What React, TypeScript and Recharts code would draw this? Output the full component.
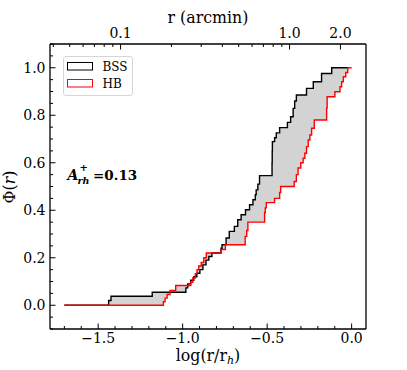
import React from 'react';
import { ComposedChart, Area, Line, XAxis, YAxis, Legend, Customized, ReferenceLine } from 'recharts';

// log(r/r_h) where each cumulative radial distribution steps up, and the value after the step
const bssX = [
  -1.7, -1.438, -1.424, -1.18, -0.981, -0.97, -0.952, -0.934, -0.916, -0.898, -0.88, -0.862, -0.845, -0.827,
  -0.773, -0.767, -0.743, -0.724, -0.694, -0.674, -0.654, -0.628, -0.604, -0.584, -0.57, -0.565, -0.555,
  -0.545, -0.471, -0.47, -0.469, -0.456, -0.446, -0.426, -0.38, -0.361, -0.346, -0.337, -0.327, -0.267,
  -0.227, -0.178, -0.118, -0.019,
];
const bssY = [
  0, 0.02, 0.038, 0.055, 0.073, 0.09, 0.105, 0.12, 0.135, 0.15, 0.17, 0.19, 0.205, 0.22,
  0.24, 0.255, 0.283, 0.311, 0.332, 0.36, 0.381, 0.402, 0.423, 0.444, 0.465, 0.486, 0.51,
  0.546, 0.6, 0.65, 0.689, 0.705, 0.726, 0.748, 0.77, 0.794, 0.829, 0.86, 0.885, 0.913,
  0.941, 0.976, 1.0, 1.0,
];
const hbX = [
  -1.7, -1.114, -1.104, -1.092, -1.075, -1.041, -0.952, -0.94, -0.925, -0.915, -0.905, -0.89, -0.875,
  -0.86, -0.773, -0.747, -0.63, -0.621, -0.614, -0.515, -0.511, -0.505, -0.456, -0.426, -0.42, -0.34,
  -0.327, -0.317, -0.301, -0.287, -0.277, -0.267, -0.257, -0.247, -0.237, -0.221, -0.148, -0.145,
  -0.099, -0.069, -0.059, -0.049, -0.035, -0.023, 0.0,
];
const hbY = [
  0, 0.015, 0.03, 0.045, 0.062, 0.083, 0.097, 0.115, 0.133, 0.15, 0.165, 0.18, 0.2,
  0.22, 0.235, 0.255, 0.29, 0.315, 0.35, 0.39, 0.41, 0.432, 0.45, 0.475, 0.5, 0.521,
  0.55, 0.578, 0.6, 0.619, 0.64, 0.668, 0.696, 0.717, 0.745, 0.78, 0.83, 0.878,
  0.899, 0.92, 0.941, 0.962, 0.98, 1.0, 1.0,
];

const bottomMajor = [-1.5, -1.0, -0.5, 0.0];
const bottomMinor = [-1.7, -1.6, -1.4, -1.3, -1.2, -1.1, -0.9, -0.8, -0.7, -0.6, -0.4, -0.3, -0.2, -0.1];
const leftMajor = [0, 0.2, 0.4, 0.6, 0.8, 1.0];
const leftMinor = [
  -0.1, -0.05, 0.05, 0.1, 0.15, 0.25, 0.3, 0.35, 0.45, 0.5, 0.55, 0.65, 0.7, 0.75, 0.85, 0.9, 0.95, 1.05, 1.1,
];
const arcminMajor = [0.1, 1.0, 2.0];
const arcminLabels = ['0.1', '1.0', '2.0'];
const arcminMinor = [0.04, 0.05, 0.06, 0.07, 0.08, 0.09, 0.2, 0.3, 0.4, 0.5, 0.6, 0.7, 0.8, 0.9];
const R_H = 2.33; // arcmin

const X_DOMAIN: [number, number] = [-1.785, 0.085];
const Y_DOMAIN: [number, number] = [-0.1, 1.1];
const FONT = "'DejaVu Serif', 'Liberation Serif', serif";

const stepValue = (xs: number[], ys: number[], x: number) => {
  if (x < xs[0] - 1e-9 || x > xs[xs.length - 1] + 1e-9) return null;
  let v = ys[0];
  xs.forEach((xi, i) => {
    if (xi <= x + 1e-9) v = ys[i];
  });
  return v;
};

const allX = Array.from(new Set([...bssX, ...hbX])).sort((a, b) => a - b);
const rows = allX.map((x) => {
  const bss = stepValue(bssX, bssY, x);
  const hb = stepValue(hbX, hbY, x);
  const a = bss ?? (hb as number);
  const b = hb ?? (bss as number);
  return { x, bss, hb, band: [Math.min(a, b), Math.max(a, b)] };
});

const toLog = (r: number) => Math.log10(r / R_H);
const topMajorPos = arcminMajor.map(toLog);
const topTicks = [...arcminMinor.map(toLog), ...topMajorPos];

const near = (list: number[], v: number) => list.findIndex((t) => Math.abs(t - v) < 1e-6);
const fmt = (v: number) => (v < -1e-9 ? '\u2212' + Math.abs(v).toFixed(1) : Math.abs(v).toFixed(1));

const MAJOR = 5.5;
const MINOR = 3;

function BottomTick(props: any) {
  const { x, y, payload } = props;
  const major = near(bottomMajor, payload.value) >= 0;
  return (
    <g>
      <line x1={x} x2={x} y1={y} y2={y - (major ? MAJOR : MINOR)} stroke="#000" strokeWidth={1} />
      {major && (
        <text x={x} y={y + 14} textAnchor="middle" fontFamily={FONT} fontSize={14} fill="#000">
          {fmt(payload.value)}
        </text>
      )}
    </g>
  );
}

function LeftTick(props: any) {
  const { x, y, payload } = props;
  const major = near(leftMajor, payload.value) >= 0;
  return (
    <g>
      <line x1={x} x2={x + (major ? MAJOR : MINOR)} y1={y} y2={y} stroke="#000" strokeWidth={1} />
      {major && (
        <text x={x - 4.5} y={y + 5} textAnchor="end" fontFamily={FONT} fontSize={14} fill="#000">
          {fmt(payload.value)}
        </text>
      )}
    </g>
  );
}

function TopTick(props: any) {
  const { x, y, payload } = props;
  const idx = near(topMajorPos, payload.value);
  const major = idx >= 0;
  return (
    <g>
      <line x1={x} x2={x} y1={y} y2={y + (major ? MAJOR : MINOR)} stroke="#000" strokeWidth={1} />
      {major && (
        <text x={x} y={y - 6} textAnchor="middle" fontFamily={FONT} fontSize={14} fill="#000">
          {arcminLabels[idx]}
        </text>
      )}
    </g>
  );
}

const renderLegend = () => (
  <svg width={71} height={41} style={{ display: 'block' }}>
    <rect x={0.5} y={0.5} width={69} height={39} rx={2.5} fill="#fff" fillOpacity={0.8} stroke="#d6d6d6" />
    <rect x={4.5} y={6.5} width={25} height={7.5} fill="none" stroke="#000" strokeWidth={1} />
    <text x={39.5} y={14.5} fontFamily={FONT} fontSize={12} fill="#000">BSS</text>
    <rect x={4.5} y={23.5} width={25} height={7.5} fill="none" stroke="#ff0000" strokeWidth={1} />
    <text x={39.5} y={31.5} fontFamily={FONT} fontSize={12} fill="#000">HB</text>
  </svg>
);

const Annotations = () => (
  <g fill="#000" fontFamily={FONT}>
    <text x={208} y={23} textAnchor="middle" fontSize={15.8}>r (arcmin)</text>
    <text x={208} y={361} textAnchor="middle" fontSize={15.8}>
      log(r/r<tspan fontStyle="italic" fontSize={11} dy={3}>h</tspan>
      <tspan dy={-3}>)</tspan>
    </text>
    <text x={15} y={187} textAnchor="middle" fontSize={15.8} transform="rotate(-90 15 187)">
      Φ(<tspan fontStyle="italic">r</tspan>)
    </text>
    <text x={67.5} y={180} fontSize={14} fontWeight="bold" fontStyle="italic">A</text>
    <text x={79.5} y={170.5} fontSize={10} fontWeight="bold">+</text>
    <text x={77.5} y={183.5} fontSize={9.5} fontWeight="bold" fontStyle="italic">rh</text>
    <text x={93} y={180} fontSize={13.5} fontWeight="bold">=0.13</text>
  </g>
);

export default function App() {
  return (
    <div style={{ position: 'absolute', left: 0, top: 0, background: '#fff' }}>
      <ComposedChart width={407} height={370} data={rows} margin={{ top: 0, right: 41, bottom: 0, left: 0 }}>
        <XAxis
          dataKey="x"
          type="number"
          domain={X_DOMAIN}
          allowDataOverflow
          ticks={[...bottomMinor, ...bottomMajor]}
          interval={0}
          height={41}
          tickSize={0}
          tickMargin={0}
          tickLine={false}
          tick={(p: any) => <BottomTick {...p} />}
          axisLine={{ stroke: '#000', strokeWidth: 1.3 }}
        />
        <XAxis
          xAxisId="top"
          dataKey="x"
          orientation="top"
          type="number"
          domain={X_DOMAIN}
          allowDataOverflow
          ticks={topTicks}
          interval={0}
          height={44}
          tickSize={0}
          tickMargin={0}
          tickLine={false}
          tick={(p: any) => <TopTick {...p} />}
          axisLine={{ stroke: '#000', strokeWidth: 1.3 }}
        />
        <YAxis
          type="number"
          domain={Y_DOMAIN}
          allowDataOverflow
          ticks={[...leftMinor, ...leftMajor]}
          interval={0}
          width={50}
          tickSize={0}
          tickMargin={0}
          tickLine={false}
          tick={(p: any) => <LeftTick {...p} />}
          axisLine={{ stroke: '#000', strokeWidth: 1.3 }}
        />
        <ReferenceLine x={X_DOMAIN[1]} stroke="#000" strokeWidth={1.3} />
        <Area
          dataKey="band"
          type="stepAfter"
          fill="#d3d3d3"
          fillOpacity={1}
          stroke="none"
          isAnimationActive={false}
          legendType="none"
        />
        <Line
          dataKey="bss"
          type="stepAfter"
          stroke="#000000"
          strokeWidth={1.4}
          dot={false}
          name="BSS"
          isAnimationActive={false}
        />
        <Line
          dataKey="hb"
          type="stepAfter"
          stroke="#ff0000"
          strokeWidth={1.4}
          dot={false}
          name="HB"
          isAnimationActive={false}
        />
        {/* invisible series so the arcmin axis gets its scale */}
        <Line
          xAxisId="top"
          dataKey="hb"
          stroke="none"
          dot={false}
          legendType="none"
          activeDot={false}
          isAnimationActive={false}
        />
        <Legend verticalAlign="middle" content={renderLegend} wrapperStyle={{ left: 63, top: 56, width: 71, height: 41 }} />
        <Customized component={Annotations} />
      </ComposedChart>
    </div>
  );
}
